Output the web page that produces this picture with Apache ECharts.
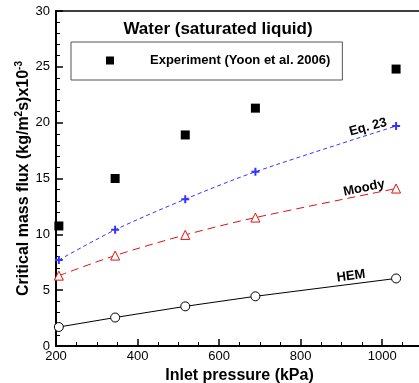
<!DOCTYPE html>
<html>
<head>
<meta charset="utf-8">
<script src="https://cdn.jsdelivr.net/npm/echarts@6/dist/echarts.min.js"></script>
<style>
  html, body { margin: 0; padding: 0; background: #fff; }
  #chart { width: 419px; height: 383px; }
</style>
</head>
<body>
<div id="chart"></div>
<script>
// inlet pressure (kPa)
const pressure = [207, 345, 517, 689, 1034];
// critical mass flux x10^-3
const experiment = [10.75, 15.0, 18.9, 21.3, 24.8];
const eq23 = [7.7, 10.4, 13.15, 15.6, 19.7];
const moody = [6.3, 8.1, 9.95, 11.5, 14.1];
const hem = [1.7, 2.55, 3.55, 4.45, 6.05];

const pairs = (ys) => pressure.map((x, i) => [x, ys[i]]);

const FONT = "Liberation Sans";
const chart = echarts.init(document.getElementById("chart"));

chart.setOption({
  animation: false,
  textStyle: { fontFamily: FONT },
  title: {
    text: "Water (saturated liquid)",
    left: 213,
    top: 16,
    textAlign: "center",
    textStyle: { fontFamily: FONT, fontSize: 17, fontWeight: "bold", color: "#000" },
  },
  legend: {
    data: [{ name: "Experiment (Yoon et al. 2006)", icon: "rect" }],
    left: 71,
    top: 42,
    padding: [12, 12, 13, 35],
    borderColor: "#555",
    borderWidth: 1,
    itemWidth: 8,
    itemHeight: 8,
    textStyle: { fontFamily: FONT, fontSize: 13, fontWeight: "bold", color: "#000", padding: [0, 0, 0, 31] },
  },
  grid: {
    left: 56,
    top: 11,
    width: 367,
    bottom: 37,
    outerBoundsMode: "none",
    containLabel: false,
    show: true,
    borderColor: "#000",
    borderWidth: 1.5,
  },
  xAxis: {
    type: "value",
    min: 200,
    max: 1100,
    interval: 200,
    name: "Inlet pressure (kPa)",
    nameLocation: "middle",
    nameGap: 20,
    nameTextStyle: { fontFamily: FONT, fontSize: 16, fontWeight: "bold", color: "#000" },
    axisLine: { lineStyle: { color: "#000", width: 2 } },
    axisTick: { inside: true, length: 7, lineStyle: { color: "#000", width: 1.5 } },
    minorTick: { show: true, splitNumber: 4, length: 4, lineStyle: { color: "#000" } },
    splitLine: { show: false },
    axisLabel: {
      fontFamily: FONT, fontSize: 13, color: "#000", margin: 4,
      formatter: (v) => (v > 1000 ? "" : v),
    },
  },
  yAxis: {
    type: "value",
    min: 0,
    max: 30,
    interval: 5,
    name: "{b|Critical mass flux (kg/m}{s|2}{b|s)x10}{s|-3}",
    nameLocation: "middle",
    nameGap: 24,
    nameMoveOverlap: false,
    nameTextStyle: {
      color: "#000",
      rich: {
        b: { fontFamily: FONT, fontSize: 16, fontWeight: "bold", color: "#000", lineHeight: 18, verticalAlign: "bottom" },
        s: { fontFamily: FONT, fontSize: 10, fontWeight: "bold", color: "#000", lineHeight: 18, verticalAlign: "top" },
      },
    },
    axisLine: { show: true, lineStyle: { color: "#000", width: 2 } },
    axisTick: { inside: true, length: 7, lineStyle: { color: "#000", width: 1.5 } },
    minorTick: { show: true, splitNumber: 5, length: 4, lineStyle: { color: "#000" } },
    splitLine: { show: false },
    axisLabel: { fontFamily: FONT, fontSize: 13, color: "#000", margin: 6 },
  },
  series: [
    {
      name: "Experiment (Yoon et al. 2006)",
      type: "scatter",
      symbol: "rect",
      symbolSize: 9,
      itemStyle: { color: "#000", opacity: 1 },
      data: pairs(experiment),
      z: 5,
    },
    {
      name: "Eq. 23",
      type: "line",
      smooth: 0.3,
      symbol: "path://M-1,0H1M0,-1V1",
      symbolSize: 8,
      itemStyle: { color: "#3333ff", borderColor: "#3333ff", borderWidth: 2 },
      lineStyle: { color: "#3333ff", width: 1, type: [4, 3] },
      data: pairs(eq23),
    },
    {
      name: "Moody",
      type: "line",
      smooth: 0.3,
      symbol: "triangle",
      symbolSize: 9,
      itemStyle: { color: "#fff", borderColor: "#e01010", borderWidth: 1 },
      lineStyle: { color: "#e01010", width: 1, type: [8, 5] },
      data: pairs(moody),
    },
    {
      name: "HEM",
      type: "line",
      symbol: "circle",
      symbolSize: 9,
      itemStyle: { color: "#fff", borderColor: "#000", borderWidth: 1 },
      lineStyle: { color: "#000", width: 1 },
      data: pairs(hem),
    },
  ],
  graphic: [
    { type: "text", x: 368, y: 127, rotation: 0.26, style: { text: "Eq. 23", font: "bold 13px Liberation Sans", fill: "#000", align: "center", verticalAlign: "middle" } },
    { type: "text", x: 364, y: 188, rotation: 0.2, style: { text: "Moody", font: "bold 13px Liberation Sans", fill: "#000", align: "center", verticalAlign: "middle" } },
    { type: "text", x: 351, y: 276, rotation: 0.13, style: { text: "HEM", font: "bold 13px Liberation Sans", fill: "#000", align: "center", verticalAlign: "middle" } },
  ],
});
</script>
</body>
</html>
